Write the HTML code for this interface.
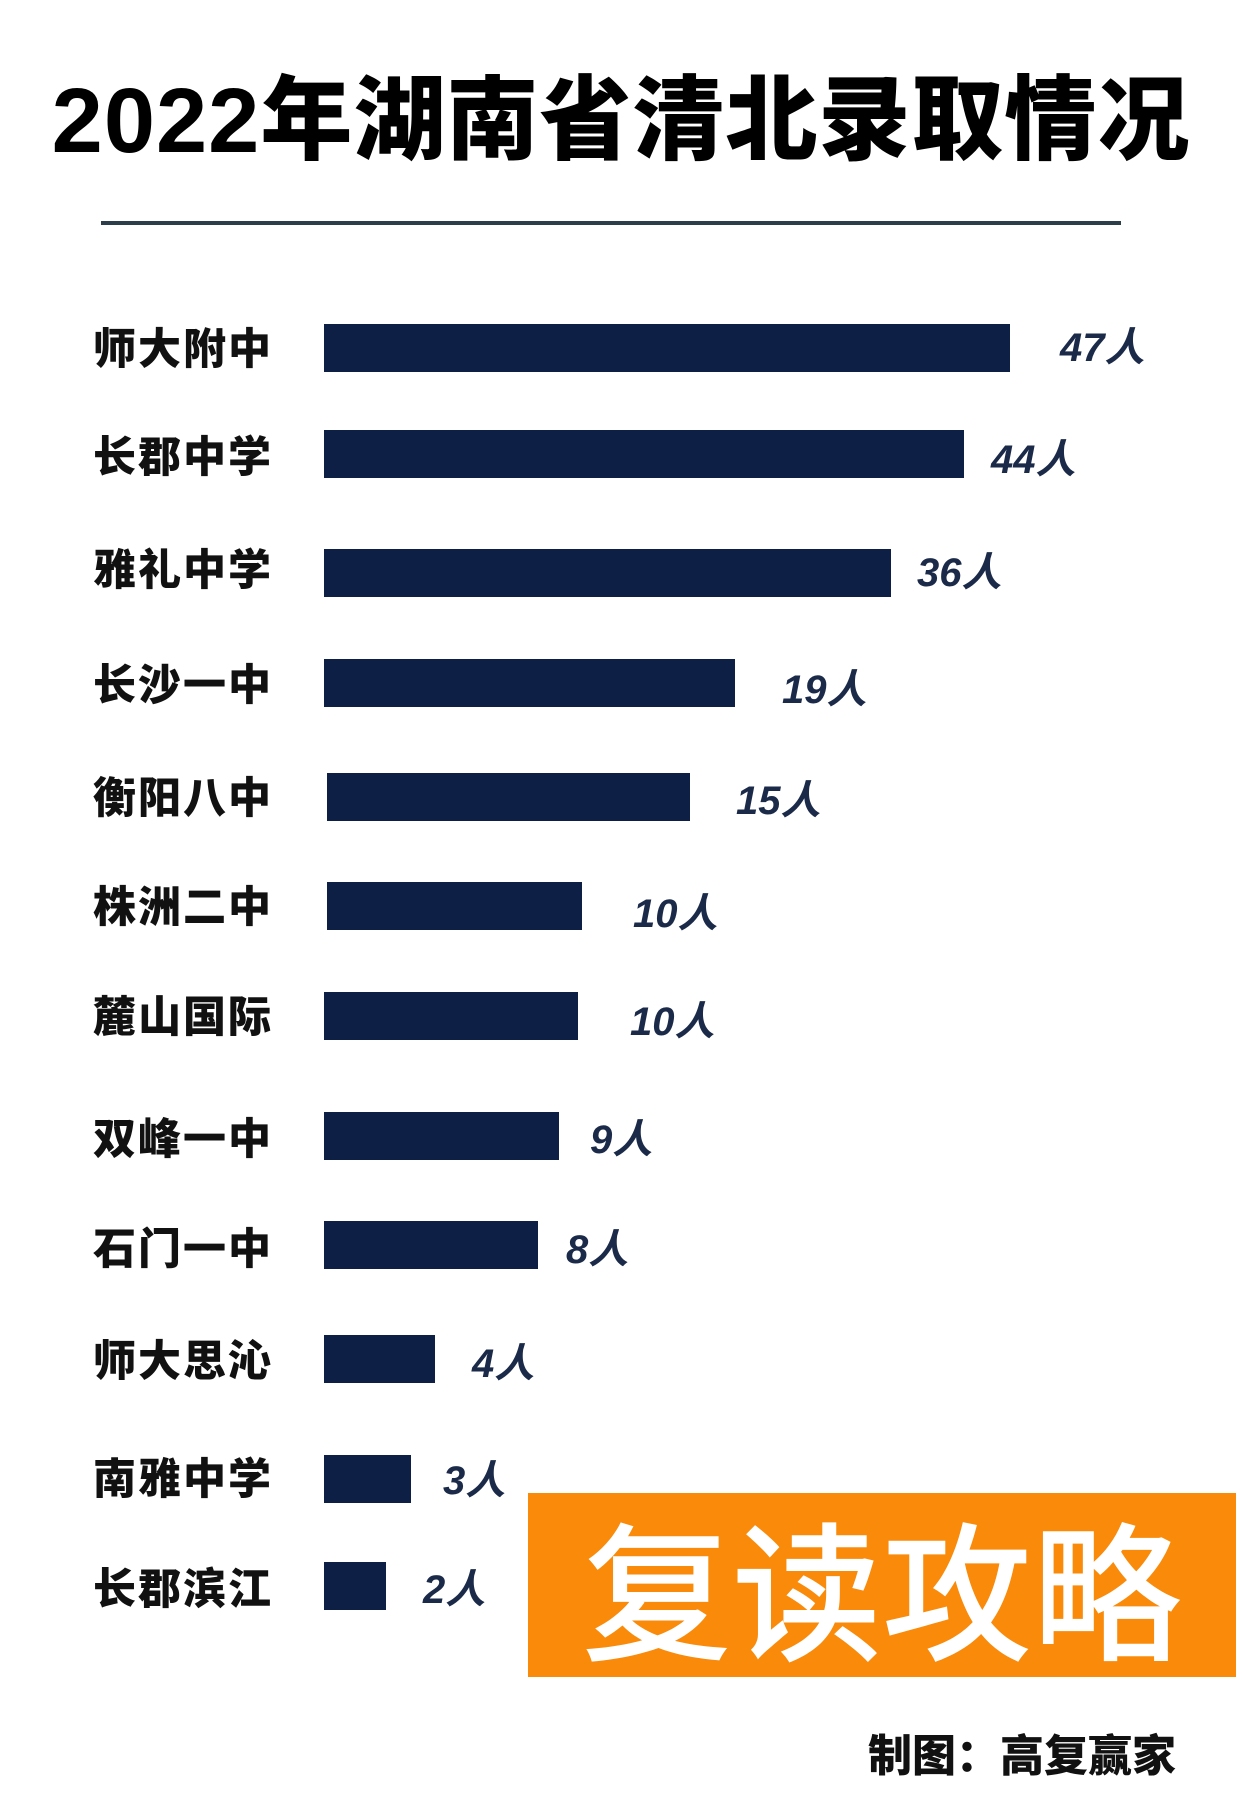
<!DOCTYPE html>
<html><head><meta charset="utf-8"><style>
body{margin:0;width:1242px;height:1808px;background:#fff;position:relative;overflow:hidden;font-family:"Liberation Sans","Noto Sans CJK SC",sans-serif}
.a{position:absolute}
.bar{position:absolute;left:324px;background:#0d1f45;height:48px}
.lb{position:absolute;left:93px;font-size:43px;font-weight:900;color:#111;line-height:48px;letter-spacing:2px;white-space:nowrap}
.v{position:absolute;font-size:40px;font-weight:bold;font-style:italic;color:#1a2a48;line-height:48px}
</style></head><body>
<div class="a" style="left:32px;top:66px;width:1178px;text-align:center;font-size:92px;font-weight:900;color:#000;line-height:110px;white-space:nowrap;letter-spacing:1px">2022年湖南省清北录取情况</div>
<div class="a" style="left:101px;top:221px;width:1020px;height:4px;background:#2d3e4b"></div>

<div class="lb" style="top:326px">师大附中</div><div class="bar" style="top:324px;width:686px"></div><div class="v" style="left:1060px;top:324px">47人</div>
<div class="lb" style="top:434px">长郡中学</div><div class="bar" style="top:430px;width:640px"></div><div class="v" style="left:991px;top:436px">44人</div>
<div class="lb" style="top:547px">雅礼中学</div><div class="bar" style="top:549px;width:567px"></div><div class="v" style="left:917px;top:549px">36人</div>
<div class="lb" style="top:662px">长沙一中</div><div class="bar" style="top:659px;width:411px"></div><div class="v" style="left:782px;top:666px">19人</div>
<div class="lb" style="top:775px">衡阳八中</div><div class="bar" style="top:773px;left:327px;width:363px"></div><div class="v" style="left:736px;top:777px">15人</div>
<div class="lb" style="top:884px">株洲二中</div><div class="bar" style="top:882px;left:327px;width:255px"></div><div class="v" style="left:633px;top:890px">10人</div>
<div class="lb" style="top:994px">麓山国际</div><div class="bar" style="top:992px;width:254px"></div><div class="v" style="left:630px;top:998px">10人</div>
<div class="lb" style="top:1116px">双峰一中</div><div class="bar" style="top:1112px;width:235px"></div><div class="v" style="left:590px;top:1116px">9人</div>
<div class="lb" style="top:1226px">石门一中</div><div class="bar" style="top:1221px;width:214px"></div><div class="v" style="left:566px;top:1226px">8人</div>
<div class="lb" style="top:1338px">师大思沁</div><div class="bar" style="top:1335px;width:111px"></div><div class="v" style="left:472px;top:1340px">4人</div>
<div class="lb" style="top:1456px">南雅中学</div><div class="bar" style="top:1455px;width:87px"></div><div class="v" style="left:443px;top:1457px">3人</div>
<div class="lb" style="top:1566px">长郡滨江</div><div class="bar" style="top:1562px;width:62px"></div><div class="v" style="left:423px;top:1566px">2人</div>

<div class="a" style="left:528px;top:1493px;width:708px;height:184px;background:#f98a0a"></div>
<div class="a" style="left:528px;top:1493px;width:708px;height:184px;text-align:center;color:#fff;font-size:150px;line-height:184px;font-weight:500;font-family:'Noto Sans CJK SC',sans-serif">复读攻略</div>
<div class="a" style="left:868px;top:1733px;font-size:44px;font-weight:900;color:#111;line-height:48px;white-space:nowrap">制图：高复赢家</div>
</body></html>
